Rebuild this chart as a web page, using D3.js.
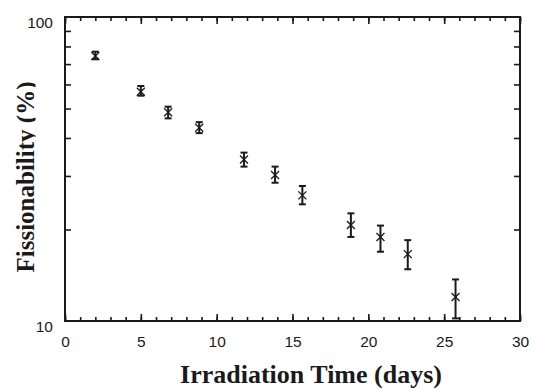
<!DOCTYPE html>
<html>
<head>
<meta charset="utf-8">
<script src="https://cdn.jsdelivr.net/npm/d3@7"></script>
<style>
  body { margin: 0; background: #fff; }
  svg { display: block; }
</style>
</head>
<body>
<div id="chart"></div>
<script>
// data
var days      = [2.0, 5.0, 6.8, 8.85, 11.8, 13.85, 15.65, 18.85, 20.8, 22.6, 25.75];
var fission   = [74.4, 56.8, 48.6, 43.2, 34.0, 30.2, 25.9, 20.7, 18.9, 16.6, 12.0];
var errHigh   = [76.9, 59.3, 50.7, 45.1, 35.8, 32.2, 27.8, 22.6, 20.6, 18.45, 13.7];
var errLow    = [72.6, 55.1, 46.4, 41.5, 32.2, 28.5, 24.2, 18.9, 16.9, 14.8, 10.2];
var xMajor    = [0, 5, 10, 15, 20, 25, 30];
var xMinor    = d3.range(0, 31, 1);
var yMajor    = [10, 100];
var yMinor    = [20, 30, 40, 50, 60, 70, 80, 90];

var W = 535, H = 389;
var margin = {top: 17, right: 15, bottom: 68, left: 65},
    width = W - margin.left - margin.right,
    height = H - margin.top - margin.bottom;

var svg = d3.select("#chart")
  .append("svg")
    .attr("width", W)
    .attr("height", H);

var g = svg.append("g")
    .attr("transform", "translate(" + margin.left + "," + margin.top + ")");

var x = d3.scaleLinear().domain([0, 30]).range([0, width]);
var y = d3.scaleLog().domain([10, 100]).range([height, 0]);

var ink = "#1a1a1a";

function styleAxis(sel) {
  sel.select(".domain").remove();
  sel.selectAll(".tick line").attr("stroke", ink).attr("stroke-width", 1.6);
  sel.selectAll(".tick text")
    .attr("fill", ink)
    .style("font-family", "'Liberation Sans', Arial, sans-serif")
    .style("font-size", "15.5px");
}

// bottom axis: minor + major (ticks pointing inward)
g.append("g")
  .attr("transform", "translate(0," + height + ")")
  .call(d3.axisBottom(x).tickValues(xMinor).tickSize(-4).tickFormat(""))
  .call(styleAxis);
g.append("g")
  .attr("transform", "translate(0," + height + ")")
  .call(d3.axisBottom(x).tickValues(xMajor).tickSize(-7).tickPadding(15).tickFormat(d3.format("d")))
  .call(styleAxis);

// top axis
g.append("g")
  .call(d3.axisTop(x).tickValues(xMinor).tickSize(-4).tickFormat(""))
  .call(styleAxis);
g.append("g")
  .call(d3.axisTop(x).tickValues(xMajor).tickSize(-7).tickFormat(""))
  .call(styleAxis);

// left axis
g.append("g")
  .call(d3.axisLeft(y).tickValues(yMinor).tickSize(-6).tickFormat(""))
  .call(styleAxis);
g.append("g")
  .call(d3.axisLeft(y).tickValues(yMajor).tickSize(0).tickPadding(12).tickFormat(d3.format("d")))
  .call(styleAxis)
  .selectAll(".tick text").attr("dy", "0.65em");

// right axis
g.append("g")
  .attr("transform", "translate(" + width + ",0)")
  .call(d3.axisRight(y).tickValues(yMinor).tickSize(-6).tickFormat(""))
  .call(styleAxis);

// frame
g.append("rect")
  .attr("width", width)
  .attr("height", height)
  .attr("fill", "none")
  .attr("stroke", ink)
  .attr("stroke-width", 2);

// error bars + markers
var pts = days.map(function(d, i) {
  return {day: d, v: fission[i], hi: errHigh[i], lo: errLow[i]};
});

var pt = g.append("g").selectAll("g")
  .data(pts)
  .enter()
  .append("g")
    .attr("transform", function(d) { return "translate(" + x(d.day) + ",0)"; });

pt.append("line")
  .attr("y1", function(d) { return y(d.hi); })
  .attr("y2", function(d) { return y(d.lo); })
  .attr("stroke", ink).attr("stroke-width", 2);
pt.append("line")
  .attr("x1", -3.5).attr("x2", 3.5)
  .attr("y1", function(d) { return y(d.hi); })
  .attr("y2", function(d) { return y(d.hi); })
  .attr("stroke", ink).attr("stroke-width", 2);
pt.append("line")
  .attr("x1", -3.5).attr("x2", 3.5)
  .attr("y1", function(d) { return y(d.lo); })
  .attr("y2", function(d) { return y(d.lo); })
  .attr("stroke", ink).attr("stroke-width", 2);

// x-shaped marker
pt.append("path")
  .attr("d", function(d) {
    var c = y(d.v), s = 4;
    return "M" + (-s) + "," + (c - s) + "L" + s + "," + (c + s) +
           "M" + s + "," + (c - s) + "L" + (-s) + "," + (c + s);
  })
  .attr("stroke", ink).attr("stroke-width", 1.3).attr("fill", "none");

// axis titles
svg.append("text")
  .attr("x", 311)
  .attr("y", 383)
  .attr("text-anchor", "middle")
  .style("font-family", "'Liberation Serif', 'Times New Roman', serif")
  .style("font-weight", "bold")
  .style("font-size", "26px")
  .attr("fill", ink)
  .text("Irradiation Time (days)");

// descenders of the y title are cut off in the original
svg.append("clipPath")
  .attr("id", "yclip")
  .append("rect")
    .attr("x", 0).attr("y", 0).attr("width", 35.5).attr("height", H);

svg.append("g")
  .attr("clip-path", "url(#yclip)")
  .append("text")
    .attr("transform", "translate(34,177) rotate(-90)")
    .attr("text-anchor", "middle")
    .style("font-family", "'Liberation Serif', 'Times New Roman', serif")
    .style("font-weight", "bold")
    .style("font-size", "25px")
    .attr("fill", ink)
    .text("Fissionability (%)");
</script>
</body>
</html>
